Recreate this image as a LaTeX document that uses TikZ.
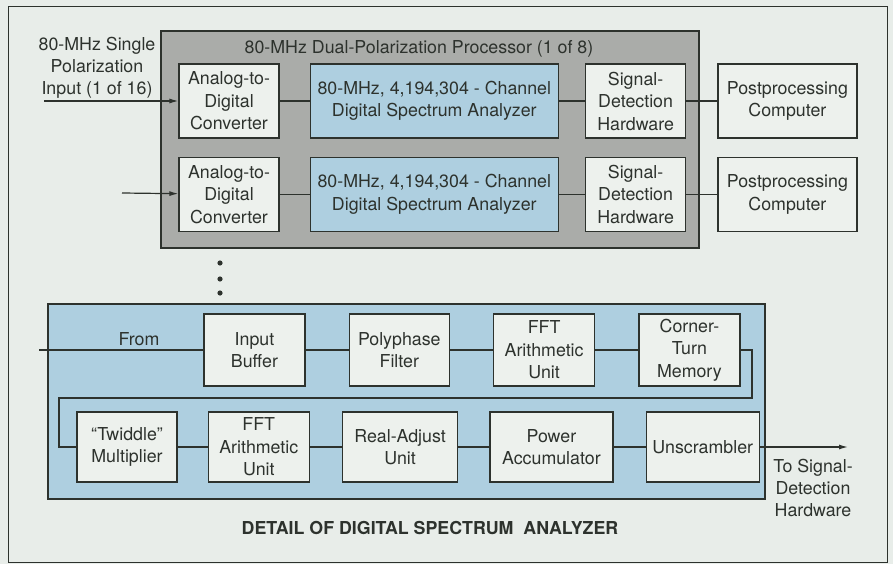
\documentclass[tikz,border=0pt]{standalone}
\usepackage{fontspec}
\setmainfont{TeX Gyre Heros}
\usetikzlibrary{positioning,arrows.meta}
\definecolor{paper}{RGB}{232,237,233}
\definecolor{boxfill}{RGB}{237,241,237}
\definecolor{procgray}{RGB}{170,172,169}
\definecolor{dsablue}{RGB}{174,207,224}
\definecolor{ink}{RGB}{45,50,45}
\tikzset{
    block/.style={
        rectangle,
        draw=ink,
        line width=1.3pt,
        fill=boxfill,
        align=center,
        inner sep=0pt,
        minimum width=100pt,
        minimum height=74pt,
        text=ink,
        font=\fontsize{17.8}{22.5}\selectfont % matches the Helvetica look
    },
    bluebox/.style={block, fill=dsablue},
    txt/.style={align=center, inner sep=0pt, text=ink, font=\fontsize{17.8}{22}\selectfont},
    wire/.style={draw=ink, line width=1.2pt}
}

\begin{document}
\begin{tikzpicture}[x=1pt, y=-1pt, node distance=18pt and 30pt]
    \fill[paper] (0,0) rectangle (893,564);
    \useasboundingbox (0,0) rectangle (893,564);
    \draw[ink, line width=1pt] (8,7) rectangle (887,562);

    % dual-polarization processor
    \node (proc) [rectangle, draw=ink, line width=1.3pt, fill=procgray, minimum width=538pt, minimum height=217pt] at (430,139.5) {};
    \node (proctitle) [txt] at (419,49) {80-MHz Dual-Polarization Processor (1 of 8)};

    \node (adcA) [block] at (229,101) {Analog-to-\\Digital\\Converter};
    \node (dsaA) [bluebox, minimum width=248pt, right=30pt of adcA] {80-MHz, 4,194,304 - Channel\\Digital Spectrum Analyzer};
    \node (sdhA) [block, right=26pt of dsaA] {Signal-\\Detection\\Hardware};
    \node (ppcA) [block, minimum width=139pt, right=31pt of sdhA] {Postprocessing\\Computer};

    \node (adcB) [block, below=18pt of adcA] {Analog-to-\\Digital\\Converter};
    \node (dsaB) [bluebox, minimum width=248pt, right=30pt of adcB] {80-MHz, 4,194,304 - Channel\\Digital Spectrum Analyzer};
    \node (sdhB) [block, right=26pt of dsaB] {Signal-\\Detection\\Hardware};
    \node (ppcB) [block, minimum width=139pt, right=31pt of sdhB] {Postprocessing\\Computer};

    \node (intext) [txt] at (97,68) {80-MHz Single\\Polarization\\Input (1 of 16)};
    \coordinate (inA) at (44,101);
    \coordinate (inB) at (122,193);

    \draw [wire, -{Latex[length=9pt,width=5pt]}] (inA) -- (adcA);
    \draw [wire, -{Latex[length=9pt,width=5pt]}] (inB) -- (adcB);
    \draw [wire] (adcA) -- (dsaA);
    \draw [wire] (dsaA) -- (sdhA);
    \draw [wire] (sdhA) -- (ppcA);
    \draw [wire] (adcB) -- (dsaB);
    \draw [wire] (dsaB) -- (sdhB);
    \draw [wire] (sdhB) -- (ppcB);

    \foreach \y in {263,279,293}
        \fill[ink] (220,\y) circle (2.6pt);

    % detail of the spectrum analyzer
    \node (detail) [rectangle, draw=ink, line width=1.3pt, fill=dsablue, minimum width=717pt, minimum height=195pt] at (406.5,401.5) {};

    \node (ib) [block, minimum width=101pt, minimum height=72pt] at (254.5,350) {Input\\Buffer};
    \node (pf) [block, minimum height=72pt, right=43pt of ib] {Polyphase\\Filter};
    \node (fftA) [block, minimum width=101pt, minimum height=72pt, right=43pt of pf] {FFT\\Arithmetic\\Unit};
    \node (ctm) [block, minimum width=101pt, minimum height=72pt, right=43pt of fftA] {Corner-\\Turn\\Memory};

    \node (tw) [block, minimum height=70pt] at (127,447) {\textquotedblleft Twiddle\textquotedblright\\Multiplier};
    \node (fftB) [block, minimum width=101pt, minimum height=70pt, right=30pt of tw] {FFT\\Arithmetic\\Unit};
    \node (ra) [block, minimum width=115pt, minimum height=70pt, right=32pt of fftB] {Real-Adjust\\Unit};
    \node (pa) [block, minimum width=123pt, minimum height=70pt, right=31pt of ra] {Power\\Accumulator};
    \node (us) [block, minimum width=113pt, minimum height=70pt, right=32pt of pa] {Unscrambler};

    \coordinate (from) at (39,350);
    \node (fromtext) [txt] at (139,339) {From};
    \coordinate (turnR) at (752,398);
    \coordinate (turnL) at (59,398);
    \coordinate (out) at (848,447);

    \draw [wire] (from) -- (ib);
    \draw [wire] (ib) -- (pf);
    \draw [wire] (pf) -- (fftA);
    \draw [wire] (fftA) -- (ctm);
    \draw [wire] (ctm.east) -| (turnR) -- (turnL) |- (tw.west);
    \draw [wire] (tw) -- (fftB);
    \draw [wire] (fftB) -- (ra);
    \draw [wire] (ra) -- (pa);
    \draw [wire] (pa) -- (us);
    \draw [wire, -{Latex[length=9pt,width=5pt]}] (us) -- (out);

    \node (outtext) [txt] at (813,488) {To Signal-\\Detection\\Hardware};
    \node (caption) [txt, font=\fontsize{17.8}{22}\selectfont\bfseries] at (430,528) {DETAIL OF DIGITAL SPECTRUM\ \ ANALYZER};
\end{tikzpicture}
\end{document}
